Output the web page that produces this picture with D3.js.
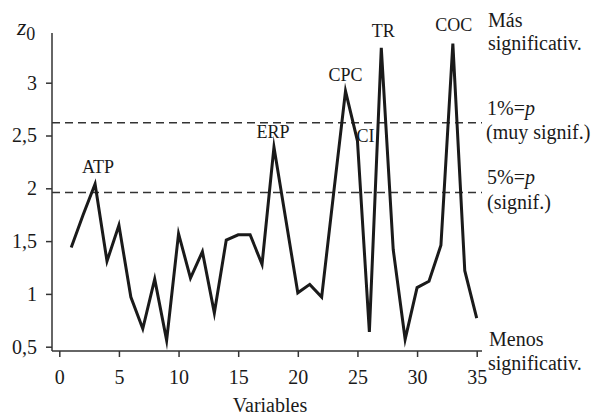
<!DOCTYPE html>
<html><head><meta charset="utf-8">
<script src="https://cdn.jsdelivr.net/npm/d3@7"></script>
<style>
body{margin:0;background:#fff;}
svg text{font-family:"Liberation Serif","Times New Roman",serif;fill:#1a1a1a;}
</style></head>
<body><svg id="chart" width="593" height="417"></svg>
<script>
const variables = d3.range(1, 36);
const z0Values = [1.44, 1.75, 2.04, 1.31, 1.65, 0.97, 0.67, 1.14, 0.56, 1.57,
  1.15, 1.40, 0.82, 1.51, 1.56, 1.56, 1.28, 2.39, 1.70, 1.01,
  1.09, 0.97, 1.95, 2.92, 2.45, 0.64, 3.33, 1.42, 0.57, 1.06,
  1.12, 1.46, 3.37, 1.22, 0.77];
const xTicks = [0, 5, 10, 15, 20, 25, 30, 35];
const yTicks = [0.5, 1, 1.5, 2, 2.5, 3];
const yTickLabels = ["0,5", "1", "1,5", "2", "2,5", "3"];
const thresholds = [1.96, 2.62];
const peakLabels = [
  {v: 3, t: "ATP"}, {v: 18, t: "ERP"}, {v: 24, t: "CPC"},
  {v: 25, t: "CI"}, {v: 27, t: "TR"}, {v: 33, t: "COC"}
];

const svg = d3.select("#chart");
const x = d3.scaleLinear().domain([0, 35]).range([59.3, 476.7]);
const y = d3.scaleLinear().domain([0.5, 3]).range([346.7, 82.7]);
const axisColor = "#333";

svg.append("line").attr("x1", 52).attr("x2", 52).attr("y1", 33).attr("y2", 351)
  .attr("stroke", axisColor).attr("stroke-width", 1.5);
svg.append("line").attr("x1", 52).attr("x2", 482).attr("y1", 351).attr("y2", 351)
  .attr("stroke", axisColor).attr("stroke-width", 1.5);

const yAxis = svg.append("g").attr("transform", "translate(52,0)")
  .call(d3.axisLeft(y).tickValues(yTicks).tickSize(6).tickPadding(9)
    .tickFormat((d, i) => yTickLabels[i]));
yAxis.select(".domain").remove();
yAxis.selectAll(".tick line").attr("stroke", axisColor).attr("stroke-width", 1.5);
yAxis.selectAll(".tick text").style("font-size", "20px").attr("fill", "#1a1a1a");

const xAxis = svg.append("g").attr("transform", "translate(0,351)")
  .call(d3.axisBottom(x).tickValues(xTicks).tickSize(6).tickPadding(13));
xAxis.select(".domain").remove();
xAxis.selectAll(".tick line").attr("stroke", axisColor).attr("stroke-width", 1.5);
xAxis.selectAll(".tick text").style("font-size", "20px").attr("fill", "#1a1a1a");

svg.selectAll(".thr").data(thresholds).enter().append("line")
  .attr("x1", 52).attr("x2", 482)
  .attr("y1", d => y(d)).attr("y2", d => y(d))
  .attr("stroke", "#333").attr("stroke-width", 1.5).attr("stroke-dasharray", "8,5");

const line = d3.line().x((d, i) => x(variables[i])).y(d => y(d));
svg.append("path").datum(z0Values).attr("d", line)
  .attr("fill", "none").attr("stroke", "#1a1a1a").attr("stroke-width", 3)
  .attr("stroke-linejoin", "miter").attr("stroke-miterlimit", 10);

const peakOffsets = {ATP: [3, -11], ERP: [-1, -9], CPC: [0, -10], CI: [8, 1], TR: [2, -10.5], COC: [1, -13]};
svg.selectAll(".pk").data(peakLabels).enter().append("text")
  .attr("x", d => x(d.v) + peakOffsets[d.t][0])
  .attr("y", d => y(z0Values[d.v - 1]) + peakOffsets[d.t][1])
  .attr("text-anchor", "middle").style("font-size", "18px").text(d => d.t);

const zl = svg.append("text").attr("x", 17).attr("y", 35).style("font-size", "24px");
zl.append("tspan").style("font-style", "italic").text("z");
zl.append("tspan").attr("dy", 5).style("font-size", "18px").text("0");

svg.append("text").attr("x", 270).attr("y", 412).attr("text-anchor", "middle")
  .style("font-size", "20px").text("Variables");

function rt(xp, yp, parts) {
  const t = svg.append("text").attr("x", xp).attr("y", yp).style("font-size", "20px");
  parts.forEach(p => { const s = t.append("tspan").text(p[0]); if (p[1]) s.style("font-style", "italic"); });
}
rt(488, 27, [["Más"]]);
rt(488, 50, [["significativ."]]);
rt(487, 115, [["1%="], ["p", true]]);
rt(486, 139, [["(muy signif.)"]]);
rt(487, 184, [["5%="], ["p", true]]);
rt(487, 209, [["(signif.)"]]);
rt(489, 346, [["Menos"]]);
rt(488, 370, [["significativ."]]);
</script></body></html>
